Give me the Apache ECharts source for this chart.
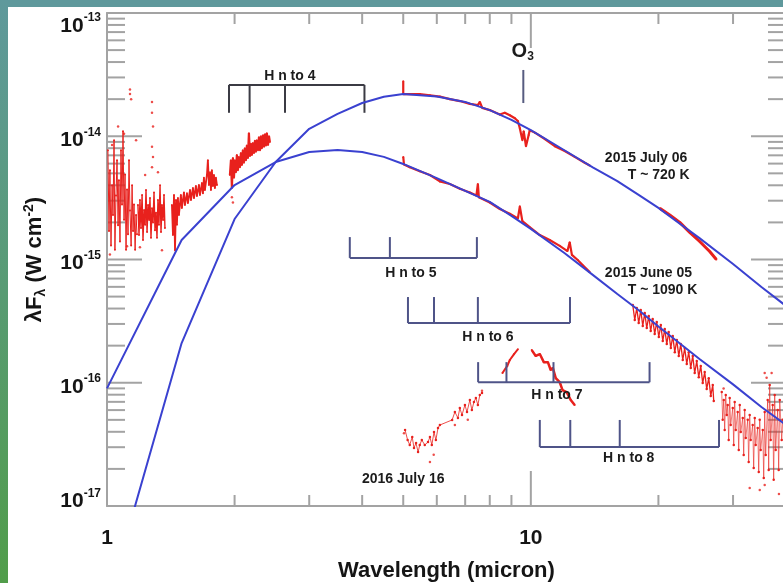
<!DOCTYPE html>
<html>
<head>
<meta charset="utf-8">
<script src="https://cdn.jsdelivr.net/npm/echarts@6/dist/echarts.min.js"></script>
<style>
  html, body { margin: 0; padding: 0; background: #ffffff; }
  #chart { width: 783px; height: 583px; }
</style>
</head>
<body>
<div id="chart"></div>
<script>
// Spectral energy distribution, lambda*F_lambda versus wavelength (log-log).

// ---- Model curves (blackbody fits) ----
const modelLambda = [1, 1.5, 2, 2.5, 3, 3.5, 4, 4.5, 5, 6, 7, 8, 9, 10, 12, 14, 16, 18, 20, 25, 30, 35, 40];
const model720K = [1.6e-18, 2.1e-16, 2.13e-15, 6.18e-15, 1.15e-14, 1.52e-14, 1.86e-14, 2.09e-14, 2.2e-14, 2.1e-14, 1.9e-14, 1.63e-14, 1.36e-14, 1.12e-14, 7.7e-15, 5.6e-15, 4.33e-15, 3.33e-15, 2.62e-15, 1.49e-15, 9.2e-16, 5.98e-16, 4.2e-16];
const model1090K = [9.0e-17, 1.44e-15, 4.02e-15, 6.18e-15, 7.45e-15, 7.73e-15, 7.45e-15, 6.8e-15, 5.96e-15, 4.58e-15, 3.6e-15, 2.93e-15, 2.26e-15, 1.77e-15, 1.13e-15, 7.5e-16, 5.25e-16, 3.86e-16, 2.86e-16, 1.56e-16, 9.7e-17, 6.36e-17, 4.54e-17];

// ---- Observed spectra [wavelength (micron), lambda*F_lambda (W cm^-2)] ----
// 1.00 - 1.18 micron
const specA = [[1.005,7.7e-15],[1.011,1.7e-15],[1.016,5.3e-15],[1.022,1.3e-15],[1.028,4.0e-15],[1.033,2.3e-15],[1.039,9.3e-15],[1.044,1.2e-15],[1.050,3.3e-15],[1.056,6.4e-15],[1.062,1.9e-15],[1.067,4.4e-15],[1.073,1.4e-15],[1.079,7.7e-15],[1.085,2.8e-15],[1.091,1.1e-14],[1.097,2.1e-15],[1.103,4.9e-15],[1.109,1.2e-15],[1.115,3.7e-15],[1.121,1.6e-15],[1.127,6.4e-15],[1.133,2.5e-15],[1.140,1.3e-15],[1.146,4.0e-15],[1.152,1.7e-15],[1.158,2.8e-15],[1.165,1.2e-15],[1.171,2.3e-15],[1.177,1.6e-15]];
// 1.18 - 1.37 micron
const specB = [[1.183,2.77e-15],[1.190,1.58e-15],[1.196,3.04e-15],[1.203,1.8e-15],[1.210,3.34e-15],[1.216,1.44e-15],[1.223,2.52e-15],[1.230,1.91e-15],[1.236,3.66e-15],[1.243,1.67e-15],[1.250,2.77e-15],[1.257,2.09e-15],[1.263,3.15e-15],[1.270,1.5e-15],[1.277,2.6e-15],[1.284,2.0e-15],[1.291,3.5e-15],[1.298,1.73e-15],[1.305,2.4e-15],[1.312,1.5e-15],[1.319,3.04e-15],[1.326,1.91e-15],[1.334,4.0e-15],[1.341,1.67e-15],[1.348,2.77e-15],[1.356,2.09e-15],[1.363,3.34e-15],[1.370,1.8e-15]];
// 1.42 - 1.82 micron
const specC = [[1.423,2.77e-15],[1.431,1.58e-15],[1.439,3.34e-15],[1.447,1.19e-15],[1.455,3.04e-15],[1.462,1.91e-15],[1.470,3.15e-15],[1.478,2.3e-15],[1.494,3.34e-15],[1.502,2.62e-15],[1.519,3.5e-15],[1.527,2.77e-15],[1.544,3.44e-15],[1.552,2.87e-15],[1.570,3.66e-15],[1.578,3.04e-15],[1.595,3.8e-15],[1.604,3.15e-15],[1.621,3.95e-15],[1.630,3.28e-15],[1.648,4.02e-15],[1.657,3.34e-15],[1.675,4.17e-15],[1.684,3.44e-15],[1.693,4.6e-15],[1.702,3.66e-15],[1.721,4.85e-15],[1.730,6.4e-15],[1.740,4.02e-15],[1.750,5.1e-15],[1.759,3.66e-15],[1.768,5.3e-15],[1.778,3.95e-15],[1.788,4.85e-15],[1.797,3.8e-15],[1.807,4.6e-15],[1.817,4.02e-15]];
// 1.95 - 2.42 micron
const specD = [[1.950,4.85e-15],[1.961,6.4e-15],[1.971,3.8e-15],[1.982,6.65e-15],[1.993,4.6e-15],[2.003,6.4e-15],[2.014,5.1e-15],[2.025,7.05e-15],[2.036,5.3e-15],[2.047,6.8e-15],[2.059,5.6e-15],[2.070,7.3e-15],[2.081,5.84e-15],[2.092,7.7e-15],[2.104,6.1e-15],[2.115,8.0e-15],[2.127,6.4e-15],[2.138,8.4e-15],[2.150,6.65e-15],[2.162,1.06e-14],[2.174,6.9e-15],[2.186,8.7e-15],[2.197,7.05e-15],[2.210,8.8e-15],[2.222,7.3e-15],[2.234,9.2e-15],[2.246,7.5e-15],[2.257,9.3e-15],[2.271,7.7e-15],[2.283,9.8e-15],[2.296,7.7e-15],[2.308,1.0e-14],[2.319,8.0e-15],[2.334,1.02e-14],[2.347,8.2e-15],[2.359,1.04e-14],[2.372,8.4e-15],[2.383,1.06e-14],[2.398,8.5e-15],[2.411,1.0e-14],[2.423,9.0e-15]];
// Isolated near-infrared points
const nirScatter = [[1.133,2.4e-14],[1.133,2.2e-14],[1.14,2.0e-14],[1.062,1.2e-14],[1.097,1.05e-14],[1.028,8.5e-15],[1.171,9.3e-15],[1.016,1.1e-15],[1.115,1.28e-15],[1.277,1.9e-14],[1.277,1.55e-14],[1.284,1.2e-14],[1.277,8.2e-15],[1.284,6.8e-15],[1.277,5.6e-15],[1.23,4.85e-15],[1.319,5.1e-15],[1.348,1.19e-15],[1.196,1.26e-15],[1.971,3.2e-15],[1.982,2.9e-15]];
// 2015 July 06, 5 - 14 micron
const julySpec = [[5.0,2.8e-14],[5.0,2.2e-14],[5.18,2.2e-14],[5.47,2.2e-14],[5.78,2.15e-14],[6.1,2.1e-14],[6.44,2.0e-14],[6.8,1.93e-14],[7.18,1.83e-14],[7.5,1.79e-14],[7.58,1.9e-14],[7.68,1.7e-14],[8.0,1.63e-14],[8.45,1.5e-14],[8.68,1.55e-14],[8.92,1.48e-14],[9.17,1.4e-14],[9.32,1.33e-14],[9.42,1.16e-14],[9.55,9.3e-15],[9.62,1.1e-14],[9.74,8.3e-15],[9.88,1.02e-14],[9.94,1.12e-14],[10.22,1.07e-14],[10.79,9.5e-15],[11.39,8.3e-15],[12.02,7.6e-15],[12.69,6.8e-15],[13.4,6.1e-15],[13.77,5.8e-15]];
// 2015 July 06, 20 - 27 micron
const julyLong = [[20.15,2.6e-15],[21.27,2.3e-15],[22.46,2.0e-15],[23.71,1.66e-15],[25.03,1.4e-15],[26.43,1.16e-15],[27.4,1.0e-15]];
// 2015 June 05, 5 - 14 micron
const juneSpec = [[5.0,6.8e-15],[5.02,5.9e-15],[5.18,5.6e-15],[5.47,5.2e-15],[5.78,4.85e-15],[6.1,4.3e-15],[6.44,4.1e-15],[6.8,3.75e-15],[7.18,3.5e-15],[7.44,3.3e-15],[7.5,4.1e-15],[7.54,3.2e-15],[8.0,2.9e-15],[8.45,2.57e-15],[8.92,2.35e-15],[9.32,2.15e-15],[9.42,2.7e-15],[9.55,2.05e-15],[9.94,1.83e-15],[10.5,1.58e-15],[11.08,1.44e-15],[11.7,1.29e-15],[12.2,1.17e-15],[12.35,1.38e-15],[12.5,1.09e-15],[12.9,9.9e-16],[13.3,8.9e-16],[13.77,7.9e-16]];
// 17 - 27 micron
const midIrBand = [[17.4,4.27e-16],[17.59,3.23e-16],[17.78,4.04e-16],[17.97,3.05e-16],[18.17,3.89e-16],[18.37,2.89e-16],[18.57,3.68e-16],[18.77,2.78e-16],[18.98,3.48e-16],[19.18,2.63e-16],[19.39,3.29e-16],[19.6,2.49e-16],[19.82,3.11e-16],[20.04,2.35e-16],[20.26,2.94e-16],[20.48,2.18e-16],[20.7,2.73e-16],[20.93,2.06e-16],[21.15,2.58e-16],[21.39,1.91e-16],[21.62,2.39e-16],[21.86,1.77e-16],[22.1,2.22e-16],[22.34,1.65e-16],[22.58,2.06e-16],[22.83,1.53e-16],[23.07,1.91e-16],[23.33,1.42e-16],[23.58,1.77e-16],[23.84,1.32e-16],[24.1,1.65e-16],[24.36,1.2e-16],[24.63,1.5e-16],[24.9,1.11e-16],[25.17,1.37e-16],[25.44,9.95e-17],[25.72,1.22e-16],[26.0,8.9e-17],[26.29,1.09e-16],[26.58,7.81e-17],[26.87,9.6e-17],[27.01,7.11e-17]];
// 28 - 40 micron
const farBand = [[28.21,8.4e-17],[28.36,5.0e-17],[28.52,7.25e-17],[28.67,4.14e-17],[28.83,7.96e-17],[28.99,5.47e-17],[29.14,6.6e-17],[29.3,3.43e-17],[29.46,7.52e-17],[29.62,4.54e-17],[29.95,6.24e-17],[30.11,3.13e-17],[30.27,6.98e-17],[30.44,4.14e-17],[30.77,5.79e-17],[30.94,2.85e-17],[31.11,6.6e-17],[31.28,3.98e-17],[31.62,5.18e-17],[31.79,2.59e-17],[31.96,6.0e-17],[32.14,3.56e-17],[32.49,5.0e-17],[32.66,2.28e-17],[32.84,5.47e-17],[33.02,3.43e-17],[33.38,4.54e-17],[33.56,2.03e-17],[33.75,5.18e-17],[33.93,3.13e-17],[34.3,4.3e-17],[34.49,1.89e-17],[34.68,5.0e-17],[34.86,2.85e-17],[35.25,4.14e-17],[35.44,1.69e-17],[35.63,5.79e-17],[35.82,2.59e-17],[36.21,7.25e-17],[36.41,1.96e-17],[36.61,9.6e-17],[36.81,3.43e-17],[37.21,6.6e-17],[37.41,1.63e-17],[37.62,7.96e-17],[37.82,2.85e-17],[38.23,6.0e-17],[38.44,1.96e-17],[38.66,7.25e-17],[39.08,3.43e-17],[39.3,5.0e-17]];
const farScatter = [[32.84,1.4e-17],[34.68,1.35e-17],[35.63,1.48e-17],[35.63,1.2e-16],[36.0,1.1e-16],[28.5,9.0e-17],[38.5,1.25e-17],[37.0,1.2e-16]];
// 2016 July 16, 5 - 7.7 micron
const july16Spec = [[5.05,4.14e-17],[5.12,3.43e-17],[5.18,3.13e-17],[5.25,3.63e-17],[5.30,2.96e-17],[5.36,3.24e-17],[5.42,2.74e-17],[5.47,3.13e-17],[5.53,3.43e-17],[5.62,3.13e-17],[5.72,3.3e-17],[5.78,3.63e-17],[5.84,3.13e-17],[5.91,3.98e-17],[5.97,3.43e-17],[6.04,4.3e-17],[6.10,4.54e-17],[6.52,4.99e-17],[6.62,5.79e-17],[6.73,5.18e-17],[6.80,6.24e-17],[6.88,5.47e-17],[6.99,6.6e-17],[7.07,5.79e-17],[7.18,7.25e-17],[7.26,6.0e-17],[7.34,6.98e-17],[7.42,7.52e-17],[7.50,6.6e-17],[7.58,7.96e-17],[7.67,8.26e-17]];
const july16Scatter = [[5.78,2.28e-17],[5.9,2.6e-17],[6.62,4.54e-17],[7.10,5.0e-17],[5.02,3.9e-17],[7.67,8.6e-17]];
// 8.5 - 12.7 micron
const segK1 = [[8.57,1.2e-16],[8.8,1.37e-16],[8.92,1.53e-16],[9.12,1.7e-16],[9.32,1.87e-16]];
const segK2 = [[10.05,1.84e-16],[10.27,1.65e-16],[10.5,1.71e-16],[10.73,1.47e-16],[10.97,1.47e-16],[11.14,1.27e-16],[11.27,1.32e-16],[11.45,1.09e-16],[11.7,1.01e-16],[11.88,8.7e-17],[12.15,8.4e-17],[12.42,7.25e-17],[12.69,6.6e-17]];

// ---- Hydrogen recombination line wavelengths (micron) ----
const hLinesTo4 = [1.94, 2.17, 2.63, 4.05];
const hLinesTo5 = [3.74, 4.65, 7.46];
const hLinesTo6 = [5.13, 5.91, 7.50, 12.37];
const hLinesTo7 = [7.51, 8.76, 11.31, 19.06];
const hLinesTo8 = [10.50, 12.39, 16.21, 27.80];
const ozoneLine = 9.6;

// ---- Axis ticks ----
const xMajorTicks = [1, 10];
const xMinorTicks = [2, 3, 4, 5, 6, 7, 8, 9, 20, 30];
const yDecades = [1e-17, 1e-16, 1e-15, 1e-14, 1e-13];
const yMinorSteps = [2, 3, 4, 5, 6, 7, 8, 9];

const X_MIN = 1, X_MAX = 40, Y_MIN = 1e-17, Y_MAX = 1e-13;
const FONT = "'Liberation Sans', Arial, Helvetica, sans-serif";
const RED = '#e8211d', BLUE = '#3a41d0', AXIS = '#a3a3a3', INK = '#151515';
const NAVY = '#4f5488', DARK = '#3b3b44';

const yMinorTicks = [];
yDecades.slice(0, 4).forEach(d => yMinorSteps.forEach(m => yMinorTicks.push(m * d)));

const zip = (xs, ys) => xs.map((x, i) => [x, ys[i]]);

const brackets = [
  { lines: hLinesTo4, base: 2.61e-14, tip: 1.55e-14, color: DARK },
  { lines: hLinesTo5, base: 1.03e-15, tip: 1.52e-15, color: NAVY },
  { lines: hLinesTo6, base: 3.05e-16, tip: 4.96e-16, color: NAVY },
  { lines: hLinesTo7, base: 1.01e-16, tip: 1.47e-16, color: NAVY },
  { lines: hLinesTo8, base: 3.01e-17, tip: 4.99e-17, color: NAVY }
];

const notes = [
  { text: 'H n to 4', at: [2.70, 3.08e-14], align: 'center' },
  { text: 'H n to 5', at: [5.21, 7.76e-16], align: 'center' },
  { text: 'H n to 6', at: [7.92, 2.35e-16], align: 'center' },
  { text: 'H n to 7', at: [11.52, 7.96e-17], align: 'center' },
  { text: 'H n to 8', at: [17.02, 2.45e-17], align: 'center' },
  { text: '2015 July 06', at: [14.95, 6.66e-15], align: 'left' },
  { text: 'T ~ 720 K', at: [16.93, 4.85e-15], align: 'left' },
  { text: '2015 June 05', at: [14.95, 7.77e-16], align: 'left' },
  { text: 'T ~ 1090 K', at: [16.93, 5.66e-16], align: 'left' },
  { text: '2016 July 16', at: [5.0, 1.66e-17], align: 'center' },
  { text: '{o|O}{s|3}', at: [9.57, 4.83e-14], align: 'center' }
];

function line(x1, y1, x2, y2, color, w) {
  return { type: 'line', shape: { x1, y1, x2, y2 }, style: { stroke: color, lineWidth: w } };
}

function spectrum(name, data, width, dot) {
  return {
    name, type: 'line', data, z: 3, clip: true,
    symbol: 'circle', symbolSize: dot || 2, showSymbol: true,
    itemStyle: { color: RED },
    lineStyle: { color: RED, width: width },
    emphasis: { disabled: true }
  };
}
function dots(name, data) {
  return {
    name, type: 'scatter', data, z: 3, symbol: 'circle', symbolSize: 2.5,
    itemStyle: { color: RED }, emphasis: { disabled: true }
  };
}

const chart = echarts.init(document.getElementById('chart'), null, { renderer: 'canvas' });

const option = {
  animation: false,
  backgroundColor: '#ffffff',
  graphic: [
    { type: 'rect', shape: { x: 0, y: 0, width: 783, height: 7 }, style: { fill: '#5f999c' }, silent: true },
    { type: 'rect', shape: { x: 0, y: 0, width: 8, height: 583 }, silent: true,
      style: { fill: new echarts.graphic.LinearGradient(0, 0, 0, 1, [
        { offset: 0, color: '#5f999c' }, { offset: 1, color: '#519d4a' }]) } }
  ],
  grid: { left: 107, top: 13, width: 679, height: 493, containLabel: false, outerBoundsMode: 'none' },
  xAxis: [
    {
      type: 'log', logBase: 10, min: X_MIN, max: X_MAX, position: 'bottom',
      axisLine: { show: true, lineStyle: { color: AXIS, width: 2 } },
      axisTick: { show: false }, splitLine: { show: false }, minorTick: { show: false },
      axisLabel: {
        margin: 22, color: INK, fontSize: 21, fontWeight: 'bold', fontFamily: FONT, lineHeight: 21,
        formatter: v => {
          const e = Math.log10(v);
          return (Math.abs(e - Math.round(e)) < 1e-6 && v < X_MAX) ? String(Math.round(v)) : '';
        }
      },
      name: 'Wavelength (micron)', nameLocation: 'middle', nameGap: 53, nameMoveOverlap: false,
      nameTextStyle: { color: INK, fontSize: 22, fontWeight: 'bold', fontFamily: FONT, lineHeight: 24 }
    },
    {
      type: 'log', logBase: 10, min: X_MIN, max: X_MAX, position: 'top',
      axisLine: { show: true, lineStyle: { color: AXIS, width: 2 } },
      axisTick: { show: false }, axisLabel: { show: false }, splitLine: { show: false }
    }
  ],
  yAxis: [
    {
      type: 'log', logBase: 10, min: Y_MIN, max: Y_MAX, position: 'left',
      axisLine: { show: true, lineStyle: { color: AXIS, width: 2 } },
      axisTick: { show: false }, splitLine: { show: false }, minorTick: { show: false },
      axisLabel: {
        margin: 6, color: INK, padding: [8, 0, 0, 0],
        formatter: v => {
          const e = Math.round(Math.log10(v));
          const core = '{b|10}{s|' + e + '}';
          if (e === -13) return '{gt| }\n' + core;
          if (e === -17) return core + '\n{gb| }';
          return core;
        },
        rich: {
          b: { fontSize: 21, fontWeight: 'bold', fontFamily: FONT, color: INK, lineHeight: 28 },
          s: { fontSize: 12, fontWeight: 'bold', fontFamily: FONT, color: INK, lineHeight: 8, verticalAlign: 'top' },
          gt: { fontSize: 8, lineHeight: 18 },
          gb: { fontSize: 8, lineHeight: 17 }
        }
      },
      name: '{a|λF}{sub|λ}{a| (W cm}{sup|-2}{a|)}',
      nameLocation: 'middle', nameGap: 59, nameRotate: 90, nameMoveOverlap: false,
      nameTextStyle: {
        rich: {
          a: { fontSize: 22, fontWeight: 'bold', fontFamily: FONT, color: INK, lineHeight: 26 },
          sub: { fontSize: 14, fontWeight: 'bold', fontFamily: FONT, color: INK, lineHeight: 10, verticalAlign: 'bottom' },
          sup: { fontSize: 14, fontWeight: 'bold', fontFamily: FONT, color: INK, lineHeight: 8, verticalAlign: 'top' }
        }
      }
    },
    {
      type: 'log', logBase: 10, min: Y_MIN, max: Y_MAX, position: 'right',
      axisLine: { show: true, lineStyle: { color: AXIS, width: 2 } },
      axisTick: { show: false }, axisLabel: { show: false }, splitLine: { show: false }
    }
  ],
  series: [
    // Axis ticks drawn inward on all four sides
    {
      name: 'xTicks', type: 'custom', silent: true, z: 1,
      data: xMajorTicks.concat(xMinorTicks).map(v => [v, Y_MIN]),
      renderItem: (params, api) => {
        const cs = params.coordSys;
        const x = api.coord([api.value(0), Y_MIN])[0];
        const major = params.dataIndex < xMajorTicks.length;
        const len = major ? 35 : 11;
        return { type: 'group', children: [
          line(x, cs.y + cs.height, x, cs.y + cs.height - len, AXIS, 2),
          line(x, cs.y, x, cs.y + len, AXIS, 2)
        ] };
      }
    },
    {
      name: 'yTicks', type: 'custom', silent: true, z: 1,
      data: yDecades.concat(yMinorTicks).map(v => [X_MIN, v]),
      renderItem: (params, api) => {
        const cs = params.coordSys;
        const y = api.coord([X_MIN, api.value(1)])[1];
        const major = params.dataIndex < yDecades.length;
        const len = major ? 35 : 18;
        return { type: 'group', children: [
          line(cs.x, y, cs.x + len, y, AXIS, 2),
          line(cs.x + cs.width, y, cs.x + cs.width - len, y, AXIS, 2)
        ] };
      }
    },
    // Hydrogen line markers
    {
      name: 'hydrogen', type: 'custom', silent: true, z: 4,
      data: brackets.map(b => [b.lines[0], b.base]),
      renderItem: (params, api) => {
        const b = brackets[params.dataIndex];
        const a = api.coord([b.lines[0], b.base]);
        const z = api.coord([b.lines[b.lines.length - 1], b.base]);
        const kids = [line(a[0], a[1], z[0], z[1], b.color, 2)];
        b.lines.forEach(l => {
          const p = api.coord([l, b.base]);
          const q = api.coord([l, b.tip]);
          kids.push(line(p[0], p[1], q[0], q[1], b.color, 2));
        });
        return { type: 'group', children: kids };
      }
    },
    {
      name: 'ozone', type: 'custom', silent: true, z: 4,
      data: [[ozoneLine, 1.86e-14]],
      renderItem: (params, api) => {
        const p = api.coord([ozoneLine, 1.86e-14]);
        const q = api.coord([ozoneLine, 3.45e-14]);
        return line(p[0], p[1], q[0], q[1], '#575c80', 2);
      }
    },
    // Observed spectra
    spectrum('specA', specA, 1),
    spectrum('specB', specB, 1.4),
    spectrum('specC', specC, 1.8),
    spectrum('specD', specD, 2.2),
    dots('nirScatter', nirScatter),
    spectrum('julySpec', julySpec, 2.2),
    spectrum('julyLong', julyLong, 3),
    spectrum('juneSpec', juneSpec, 2.2),
    spectrum('midIrBand', midIrBand, 1.3, 2.5),
    spectrum('farBand', farBand, 0.6, 2.5),
    dots('farScatter', farScatter),
    spectrum('july16Spec', july16Spec, 0.8, 2.5),
    dots('july16Scatter', july16Scatter),
    spectrum('segK1', segK1, 2),
    spectrum('segK2', segK2, 2.5),
    // Blackbody models
    {
      name: 'T ~ 720 K', type: 'line', data: zip(modelLambda, model720K), z: 5, clip: true,
      showSymbol: false, symbol: 'none', lineStyle: { color: BLUE, width: 2 }, emphasis: { disabled: true }
    },
    {
      name: 'T ~ 1090 K', type: 'line', data: zip(modelLambda, model1090K), z: 5, clip: true,
      showSymbol: false, symbol: 'none', lineStyle: { color: BLUE, width: 2 }, emphasis: { disabled: true }
    },
    // Text annotations
    {
      name: 'notes', type: 'custom', silent: true, z: 6,
      data: notes.map(n => n.at),
      renderItem: (params, api) => {
        const n = notes[params.dataIndex];
        const p = api.coord(n.at);
        return {
          type: 'text', x: p[0], y: p[1],
          style: {
            text: n.text, fill: '#1c1c1c', font: 'bold 14px ' + FONT,
            align: n.align, verticalAlign: 'middle',
            rich: {
              o: { fontSize: 20, fontWeight: 'bold', fontFamily: FONT, fill: '#1c1c1c', lineHeight: 22 },
              s: { fontSize: 12, fontWeight: 'bold', fontFamily: FONT, fill: '#1c1c1c', lineHeight: 10, verticalAlign: 'bottom' }
            }
          }
        };
      }
    }
  ]
};

chart.setOption(option);
</script>
</body>
</html>
